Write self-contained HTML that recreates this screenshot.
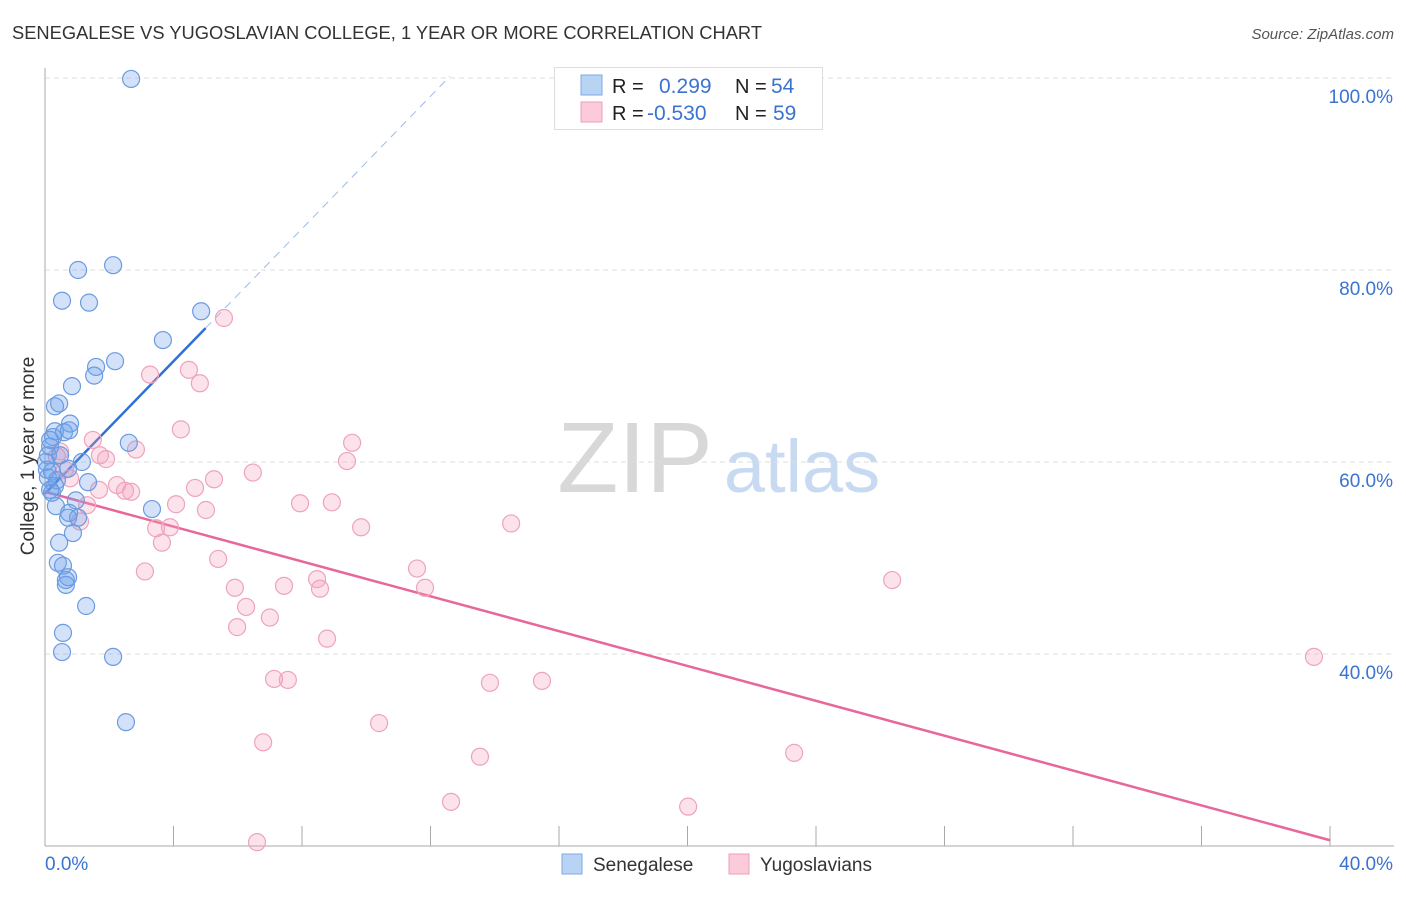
<!DOCTYPE html>
<html><head><meta charset="utf-8"><style>
body{margin:0;background:#fff;font-family:"Liberation Sans",sans-serif;}
svg text{font-family:"Liberation Sans",sans-serif;}
</style></head><body>
<svg id="chart" width="1406" height="892" viewBox="0 0 1406 892" xmlns="http://www.w3.org/2000/svg">
<text x="12" y="39" font-size="18" fill="#333" textLength="750" lengthAdjust="spacingAndGlyphs">SENEGALESE VS YUGOSLAVIAN COLLEGE, 1 YEAR OR MORE CORRELATION CHART</text>
<text x="1394" y="39" font-size="15" fill="#555" font-style="italic" text-anchor="end">Source: ZipAtlas.com</text>
<g>
<text x="635" y="492" font-size="100" fill="#d8d8d8" font-family="Liberation Serif" text-anchor="middle">ZIP</text>
<text x="802" y="492" font-size="74" fill="#c8daf2" text-anchor="middle">atlas</text>
</g>
<g id="grid"></g>
<g id="axes"></g>
<g id="trends"></g>
<g id="points"></g>
<text x="34" y="456" font-size="19" fill="#333" text-anchor="middle" transform="rotate(-90 34 456)">College, 1 year or more</text>
<g>
<rect x="554.5" y="67.5" width="268" height="62" fill="#fff" stroke="#ddd"/>
<rect x="581" y="75" width="21" height="20" fill="#b9d3f5" stroke="#7fa8e2"/>
<rect x="581" y="102" width="21" height="20" fill="#fbcbd9" stroke="#ee9fba"/>
<text x="612" y="93" font-size="20" fill="#222">R =</text>
<text x="659" y="93" font-size="21" fill="#3a73d0">0.299</text>
<text x="735" y="93" font-size="20" fill="#222">N =</text>
<text x="771" y="93" font-size="21" fill="#3a73d0">54</text>
<text x="612" y="120" font-size="20" fill="#222">R =</text>
<text x="647" y="120" font-size="21" fill="#3a73d0">-0.530</text>
<text x="735" y="120" font-size="20" fill="#222">N =</text>
<text x="773" y="120" font-size="21" fill="#3a73d0">59</text>
</g>
<g>
<rect x="562" y="854" width="20" height="20" fill="#b9d3f5" stroke="#7fa8e2"/>
<text x="593" y="871" font-size="19" fill="#333">Senegalese</text>
<rect x="729" y="854" width="20" height="20" fill="#fbcbd9" stroke="#ee9fba"/>
<text x="760" y="871" font-size="19" fill="#333">Yugoslavians</text>
</g>
</svg>
<script>
const blueX=[2.68,2.12,1.03,0.53,1.37,4.86,3.67,2.18,1.59,1.53,0.84,0.44,0.31,0.78,0.31,0.59,0.25,0.75,2.61,0.16,1.15,0.72,0.22,0.09,1.34,0.31,0.16,0.22,0.96,0.34,3.33,0.75,0.72,1.03,0.87,0.44,0.40,0.56,0.72,0.65,0.65,1.28,0.56,0.53,2.12,2.52,0.09,0.03,0.06,0.37,0.16,0.47];
const blueY=[99.9,80.5,80.0,76.8,76.6,75.7,72.7,70.5,69.9,69.0,67.9,66.1,65.8,64.0,63.2,63.1,62.6,63.3,62.0,61.6,60.0,59.3,59.0,58.4,57.9,57.5,57.1,56.8,56.0,55.4,55.1,54.7,54.2,54.2,52.6,51.6,49.5,49.2,48.0,47.7,47.2,45.0,42.2,40.2,39.7,32.9,60.7,60.0,59.2,58.1,62.3,60.7];
const pinkX=[5.57,3.27,4.48,4.82,4.23,1.49,2.83,9.56,1.90,0.37,0.47,9.40,6.47,5.26,0.78,4.67,1.68,2.24,2.49,2.68,7.94,8.93,4.08,5.01,1.31,1.09,14.51,9.84,3.46,3.89,3.64,3.11,5.39,11.58,8.47,8.56,7.44,5.91,11.83,6.26,7.00,5.98,8.78,26.37,39.50,7.13,7.56,13.85,15.47,10.40,6.79,13.54,23.32,12.64,20.02,6.60,0.62,1.71];
const pinkY=[75.0,69.1,69.6,68.2,63.4,62.3,61.3,62.0,60.3,60.6,61.1,60.1,58.9,58.2,58.3,57.3,57.1,57.6,57.0,56.9,55.7,55.8,55.6,55.0,55.5,53.8,53.6,53.2,53.1,53.2,51.6,48.6,49.9,48.9,47.8,46.8,47.1,46.9,46.9,44.9,43.8,42.8,41.6,47.7,39.7,37.4,37.3,37.0,37.2,32.8,30.8,29.3,29.7,24.6,24.1,20.4,59.2,60.7];
const yTicks=[40,60,80,100];
const yTickLabels=["40.0%","60.0%","80.0%","100.0%"];
const xTicks=[0,4,8,12,16,20,24,28,32,36,40];
const blueTrend=[56.7,3.45]; // intercept, slope
const blueSolidEnd=5.0, blueDashEnd=12.6;
const pinkTrend=[56.9,-0.9075];

const NS="http://www.w3.org/2000/svg";
const X0=45,X1=1330,Y0=846;
const sx=v=>X0+v/40*(X1-X0);
const sy=v=>Y0-(v-20)*9.6;
function mk(tag,attrs,parent){const e=document.createElementNS(NS,tag);for(const k in attrs)e.setAttribute(k,attrs[k]);parent.appendChild(e);return e;}
const grid=document.getElementById('grid'),axes=document.getElementById('axes'),trends=document.getElementById('trends'),pts=document.getElementById('points');
yTicks.forEach((t,i)=>{
  const l=mk('line',{x1:X0,x2:1394,y1:sy(t),y2:sy(t),stroke:'#ddd','stroke-dasharray':'5,4'},grid);
  
  
  const tx=mk('text',{x:1393,y:sy(t)+25,'font-size':19,fill:'#3a73d0','text-anchor':'end'},axes);
  tx.textContent=yTickLabels[i];
  
  
});
mk('line',{x1:X0,x2:X0,y1:68,y2:Y0,stroke:'#aaa'},axes);
mk('line',{x1:X0,x2:1394,y1:Y0,y2:Y0,stroke:'#aaa'},axes);
xTicks.forEach(t=>{
  const l=mk('line',{x1:sx(t),x2:sx(t),y1:826,y2:Y0,stroke:'#aaa'},axes);
  
  
});
const xl0=mk('text',{x:45,y:870,'font-size':19,fill:'#3a73d0'},axes);xl0.textContent='0.0%';


const xl1=mk('text',{x:1393,y:870,'font-size':19,fill:'#3a73d0','text-anchor':'end'},axes);xl1.textContent='40.0%';



function draw(xs,ys,fill,stroke,name){
  xs.forEach((x,i)=>{
    const c=mk('circle',{cx:sx(x),cy:sy(ys[i]),r:8.5,fill:fill,stroke:stroke,'stroke-width':1.2},pts);
    
    
  });
}
draw(pinkX,pinkY,'rgba(245,160,190,0.3)','#eea3bd','yugoslavian-point');
draw(blueX,blueY,'rgba(110,160,235,0.3)','#6b9be0','senegalese-point');
const bf=x=>blueTrend[0]+blueTrend[1]*x, pf=x=>pinkTrend[0]+pinkTrend[1]*x;
const bd=mk('line',{x1:sx(blueSolidEnd),y1:sy(bf(blueSolidEnd)),x2:sx(blueDashEnd),y2:sy(bf(blueDashEnd)),stroke:'#9bbbe8','stroke-width':1,'stroke-dasharray':'8,6'},trends);


const bs=mk('line',{x1:sx(0),y1:sy(bf(0)),x2:sx(blueSolidEnd),y2:sy(bf(blueSolidEnd)),stroke:'#2f6fd6','stroke-width':2.5},trends);


const ps=mk('line',{x1:sx(0),y1:sy(pf(0)),x2:sx(40),y2:sy(pf(40)),stroke:'#e8679a','stroke-width':2.5},trends);


</script>
</body></html>
